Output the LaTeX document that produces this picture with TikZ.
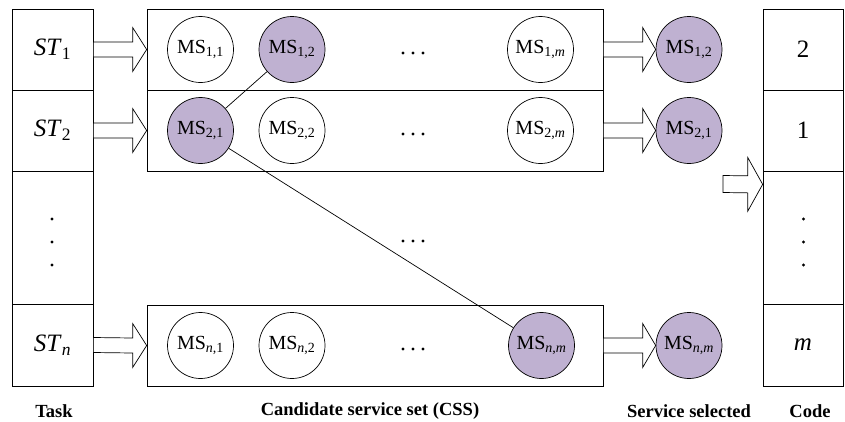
\documentclass[tikz,border=0pt]{standalone}
\usepackage{fontspec}
\setmainfont{Liberation Serif}
\usetikzlibrary{calc}
\definecolor{pick}{RGB}{191,177,209}
\newcommand{\ms}[2]{MS\textsubscript{#1,#2}}
% hollow block arrow: from, tip, shaft half height, head half height, head length
\newcommand{\fatarrow}[5]{%
  \draw[fill=white] ($(#1)+(0,-#3)$) -- ($(#2)+(-#5,-#3)$) -- ($(#2)+(-#5,-#4)$) -- (#2)
    -- ($(#2)+(-#5,#4)$) -- ($(#2)+(-#5,#3)$) -- ($(#1)+(0,#3)$) -- cycle;}
\begin{document}
\begin{tikzpicture}[x=1pt,y=-1pt,line width=0.7pt]
  \tikzstyle{cell}=[draw,inner sep=0pt,font=\fontsize{25}{30}\selectfont]
  \tikzstyle{ms}=[circle,draw,minimum size=66pt,inner sep=0pt,font=\fontsize{20}{24}\selectfont]
  \tikzstyle{chosen}=[ms,fill=pick]
  \tikzstyle{caption}=[font=\bfseries\fontsize{18.5}{22}\selectfont]
  \tikzstyle{dot}=[circle,fill,inner sep=0pt,minimum size=3.2pt]
  \useasboundingbox (0,0) rectangle (845,421);

  % task column and code column
  \foreach \name/\y/\h/\text in {1/49.5/81/{\textit{ST}\textsubscript{1}}, 2/130.5/81/{\textit{ST}\textsubscript{2}},
      3/237.5/133/{}, 4/345/82/{\textit{ST}\textsubscript{\textit{n}}}}
    \node[cell,minimum width=81pt,minimum height=\h pt] (T-\name) at (52.5,\y) {\text};
  \foreach \name/\y/\h/\text in {1/49.5/81/2, 2/130.5/81/1, 3/237.5/133/{}, 4/345/82/\textit{m}}
    \node[cell,minimum width=80pt,minimum height=\h pt] (K-\name) at (803,\y) {\text};
  \foreach \x/\col in {52/T, 803.5/K}
    \foreach \y in {219,242,265}
      \node[dot] (\col-d\y) at (\x,\y) {};

  % candidate service sets
  \foreach \name/\y in {1/49.5, 2/130.5, n/345.5}
    \node[draw,minimum width=456pt,minimum height=81pt,inner sep=0pt] (C-\name) at (375,\y) {};
  \foreach \name/\y in {1/53, 2/134, n/349, m/241}
    \foreach \x in {403,413,423}
      \node[dot] (D-\name-\x) at (\x,\y) {};

  \node[ms]     (M-11) at (200.5,49.5)  {\ms{1}{1}};
  \node[chosen] (M-12) at (292,49.5)    {\ms{1}{2}};
  \node[ms]     (M-1m) at (540.5,49.5)  {\ms{1}{\textit{m}}};
  \node[chosen] (M-21) at (200.5,130.5) {\ms{2}{1}};
  \node[ms]     (M-22) at (292,130.5)   {\ms{2}{2}};
  \node[ms]     (M-2m) at (540.5,130.5) {\ms{2}{\textit{m}}};
  \node[ms]     (M-n1) at (200.5,345.5) {\ms{\textit{n}}{1}};
  \node[ms]     (M-n2) at (292,345.5)   {\ms{\textit{n}}{2}};
  \node[chosen] (M-nm) at (541.5,345.5) {\ms{\textit{n}}{\textit{m}}};

  \draw (M-12) -- (M-21);
  \draw (M-21) -- (M-nm);

  % selected services
  \node[chosen] (S-1) at (689,49.5)  {\ms{1}{2}};
  \node[chosen] (S-2) at (689,130.5) {\ms{2}{1}};
  \node[chosen] (S-n) at (689,345.5) {\ms{\textit{n}}{\textit{m}}};

  \fatarrow{T-1.east}{C-1.west}{7.5}{22}{14}
  \fatarrow{T-2.east}{C-2.west}{7.5}{22}{14}
  \fatarrow{T-4.east}{C-n.west}{7.5}{22}{14}
  \fatarrow{C-1.east}{S-1.west}{7.5}{22}{13}
  \fatarrow{C-2.east}{S-2.west}{7.5}{22}{13}
  \fatarrow{C-n.east}{S-n.west}{7.5}{22}{13}
  \coordinate (code-in) at (723,184);
  \coordinate (code-tip) at ($(K-2.south west)+(0,13)$);
  \fatarrow{code-in}{code-tip}{8.5}{27}{15}

  % captions
  \node[caption] (L-task) at (54,411) {Task};
  \node[caption] (L-css)  at (370,411) {Candidate service set (CSS)};
  \node[caption] (L-sel)  at (689,411) {Service selected};
  \node[caption] (L-code) at (810,411) {Code};
\end{tikzpicture}
\end{document}
